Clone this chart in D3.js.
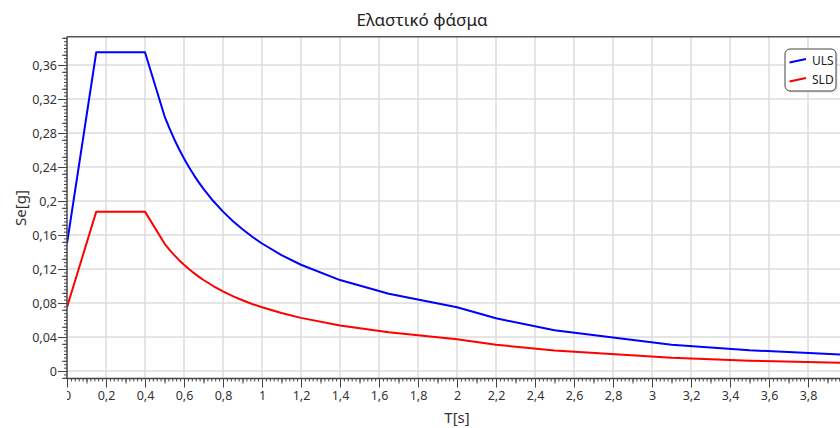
<!DOCTYPE html>
<html>
<head>
<meta charset="utf-8">
<script src="https://cdn.jsdelivr.net/npm/d3@7"></script>
<style>
  body { margin: 0; background: #fff; }
  svg { display: block; font-family: "Noto Sans", "Open Sans", sans-serif; }
</style>
</head>
<body>
<svg id="chart" width="840" height="428"></svg>
<script>
// Period values T[s] and spectral accelerations Se[g]
var periods = [0, 0.15, 0.4, 0.5, 0.525, 0.55, 0.575, 0.6, 0.625, 0.65, 0.675, 0.7, 0.75, 0.8, 0.85, 0.9, 0.95, 1.0, 1.1, 1.2, 1.4, 1.65, 2.0, 2.2, 2.5, 3.1, 3.5, 4.0];
var ulsValues = [0.15, 0.375, 0.375, 0.3, 0.2857, 0.2727, 0.2609, 0.25, 0.24, 0.2308, 0.2222, 0.2143, 0.2, 0.1875, 0.1765, 0.1667, 0.1579, 0.15, 0.1364, 0.125, 0.107, 0.091, 0.075, 0.062, 0.048, 0.031, 0.0245, 0.019];
var sldValues = [0.075, 0.1875, 0.1875, 0.15, 0.1429, 0.1364, 0.1304, 0.125, 0.12, 0.1154, 0.1111, 0.1071, 0.1, 0.0938, 0.0882, 0.0833, 0.0789, 0.075, 0.0682, 0.0625, 0.0536, 0.0455, 0.0375, 0.031, 0.024, 0.0156, 0.0122, 0.0095];
var seriesNames = ["ULS", "SLD"];
var seriesColors = ["#0000ff", "#ff0000"];

var xTicks = d3.range(0, 4.01, 0.2);
var xLabelTicks = d3.range(0, 3.81, 0.2);
var yTicks = d3.range(0, 0.37, 0.04);

var svg = d3.select("#chart");
var fmt = (d) => String(+d.toFixed(2)).replace(".", ",");

/*** Scales ***/
var xScale = d3.scaleLinear()
  .domain([0, 4])
  .range([67, 847]);

var yScale = d3.scaleLinear()
  .domain([-0.0088, 0.3933])
  .range([378.5, 36.7]);

/*** Grid ***/
var grid = svg.append("g").attr("stroke", "#dcdcdc").attr("stroke-width", 1.5);
grid.selectAll("line.v")
  .data(xTicks.slice(1))
  .join("line")
  .attr("x1", (d) => xScale(d)).attr("x2", (d) => xScale(d))
  .attr("y1", yScale.range()[1]).attr("y2", yScale.range()[0]);
grid.selectAll("line.h")
  .data(yTicks)
  .join("line")
  .attr("x1", xScale.range()[0]).attr("x2", 840)
  .attr("y1", (d) => yScale(d)).attr("y2", (d) => yScale(d));

/*** Curves ***/
svg.append("clipPath").attr("id", "plotClip")
  .append("rect")
  .attr("x", 67).attr("y", 36.7)
  .attr("width", 780).attr("height", 341.8);

var line = d3.line()
  .x((d) => xScale(d[0]))
  .y((d) => yScale(d[1]));

var series = [ulsValues, sldValues].map((vals) => periods.map((t, i) => [t, vals[i]]));

svg.append("g").attr("clip-path", "url(#plotClip)")
  .selectAll("path")
  .data(series)
  .join("path")
  .attr("d", line)
  .attr("fill", "none")
  .attr("stroke", (d, i) => seriesColors[i])
  .attr("stroke-width", 2)
  .attr("stroke-linejoin", "round");

/*** Axes: minor, mid and major ticks ***/
function drawXTicks(step, size) {
  svg.append("g")
    .attr("transform", "translate(0," + yScale.range()[0] + ")")
    .call(d3.axisBottom(xScale).tickValues(d3.range(0, 4.001, step)).tickSize(size).tickFormat(""))
    .call((g) => g.select(".domain").remove())
    .selectAll("line").attr("stroke", "#444");
}
drawXTicks(0.02, 3);
drawXTicks(0.1, 5);
drawXTicks(0.2, 9);

// labels, clipped at the left axis like the original ("0" is half hidden)
svg.append("clipPath").attr("id", "xLabClip")
  .append("rect").attr("x", 67).attr("y", -2).attr("width", 780).attr("height", 40);

var xAxisG = svg.append("g")
  .attr("transform", "translate(0," + yScale.range()[0] + ")")
  .attr("clip-path", "url(#xLabClip)")
  .call(d3.axisBottom(xScale).tickValues(xLabelTicks).tickSize(0).tickFormat(fmt));
xAxisG.select(".domain").remove();
xAxisG.selectAll("text")
  .attr("fill", "#333")
  .attr("font-size", 12.5)
  .attr("font-family", "Noto Sans, sans-serif")
  .attr("y", 13)
  .attr("dy", "0.71em");

function drawYTicks(step, size) {
  svg.append("g")
    .attr("transform", "translate(" + xScale.range()[0] + ",0)")
    .call(d3.axisLeft(yScale).tickValues(d3.range(-0.008, 0.3931, step)).tickSize(size).tickFormat(""))
    .call((g) => g.select(".domain").remove())
    .selectAll("line").attr("stroke", "#444");
}
drawYTicks(0.004, 3);
drawYTicks(0.02, 5);

var yAxisG = svg.append("g")
  .attr("transform", "translate(" + xScale.range()[0] + ",0)")
  .call(d3.axisLeft(yScale).tickValues(yTicks).tickSize(9).tickFormat(fmt));
yAxisG.select(".domain").remove();
yAxisG.selectAll("line").attr("stroke", "#444");
yAxisG.selectAll("text")
  .attr("fill", "#333")
  .attr("font-size", 12.5)
  .attr("font-family", "Noto Sans, sans-serif")
  .attr("x", -10);

/*** Frame lines ***/
svg.append("line")
  .attr("x1", 67).attr("x2", 840)
  .attr("y1", 36.7).attr("y2", 36.7)
  .attr("stroke", "#555").attr("stroke-width", 1.5);
svg.append("line")
  .attr("x1", 67).attr("x2", 840)
  .attr("y1", 378.5).attr("y2", 378.5)
  .attr("stroke", "#444").attr("stroke-width", 1.5);
svg.append("line")
  .attr("x1", 67).attr("x2", 67)
  .attr("y1", 36.7).attr("y2", 378.5)
  .attr("stroke", "#444").attr("stroke-width", 1.5);

/*** Titles ***/
svg.append("text")
  .attr("x", 422).attr("y", 26)
  .attr("text-anchor", "middle")
  .attr("font-size", 17)
  .attr("fill", "#222")
  .text("Ελαστικό φάσμα");

svg.append("text")
  .attr("x", 457).attr("y", 423)
  .attr("text-anchor", "middle")
  .attr("font-size", 15)
  .attr("fill", "#333")
  .text("T[s]");

svg.append("text")
  .attr("transform", "translate(26,208) rotate(-90)")
  .attr("text-anchor", "middle")
  .attr("font-size", 15)
  .attr("fill", "#333")
  .text("Se[g]");

/*** Legend ***/
var legend = svg.append("g").attr("transform", "translate(785,49)");
legend.append("rect")
  .attr("x", 1.5).attr("y", 1.5)
  .attr("width", 51).attr("height", 42)
  .attr("rx", 5)
  .attr("fill", "#ccc").attr("opacity", 0.6);
legend.append("rect")
  .attr("width", 51).attr("height", 42)
  .attr("rx", 5)
  .attr("fill", "#fff")
  .attr("stroke", "#444").attr("stroke-width", 1);
var items = legend.selectAll("g.item")
  .data(seriesNames)
  .join("g")
  .attr("transform", (d, i) => "translate(0," + (i * 19) + ")");
items.append("line")
  .attr("x1", 4.5).attr("y1", 13.5)
  .attr("x2", 21).attr("y2", 10)
  .attr("stroke", (d, i) => seriesColors[i])
  .attr("stroke-width", 2);
items.append("text")
  .attr("x", 27).attr("y", 16)
  .attr("font-size", 12)
  .attr("fill", "#222")
  .text((d) => d);
</script>
</body>
</html>
